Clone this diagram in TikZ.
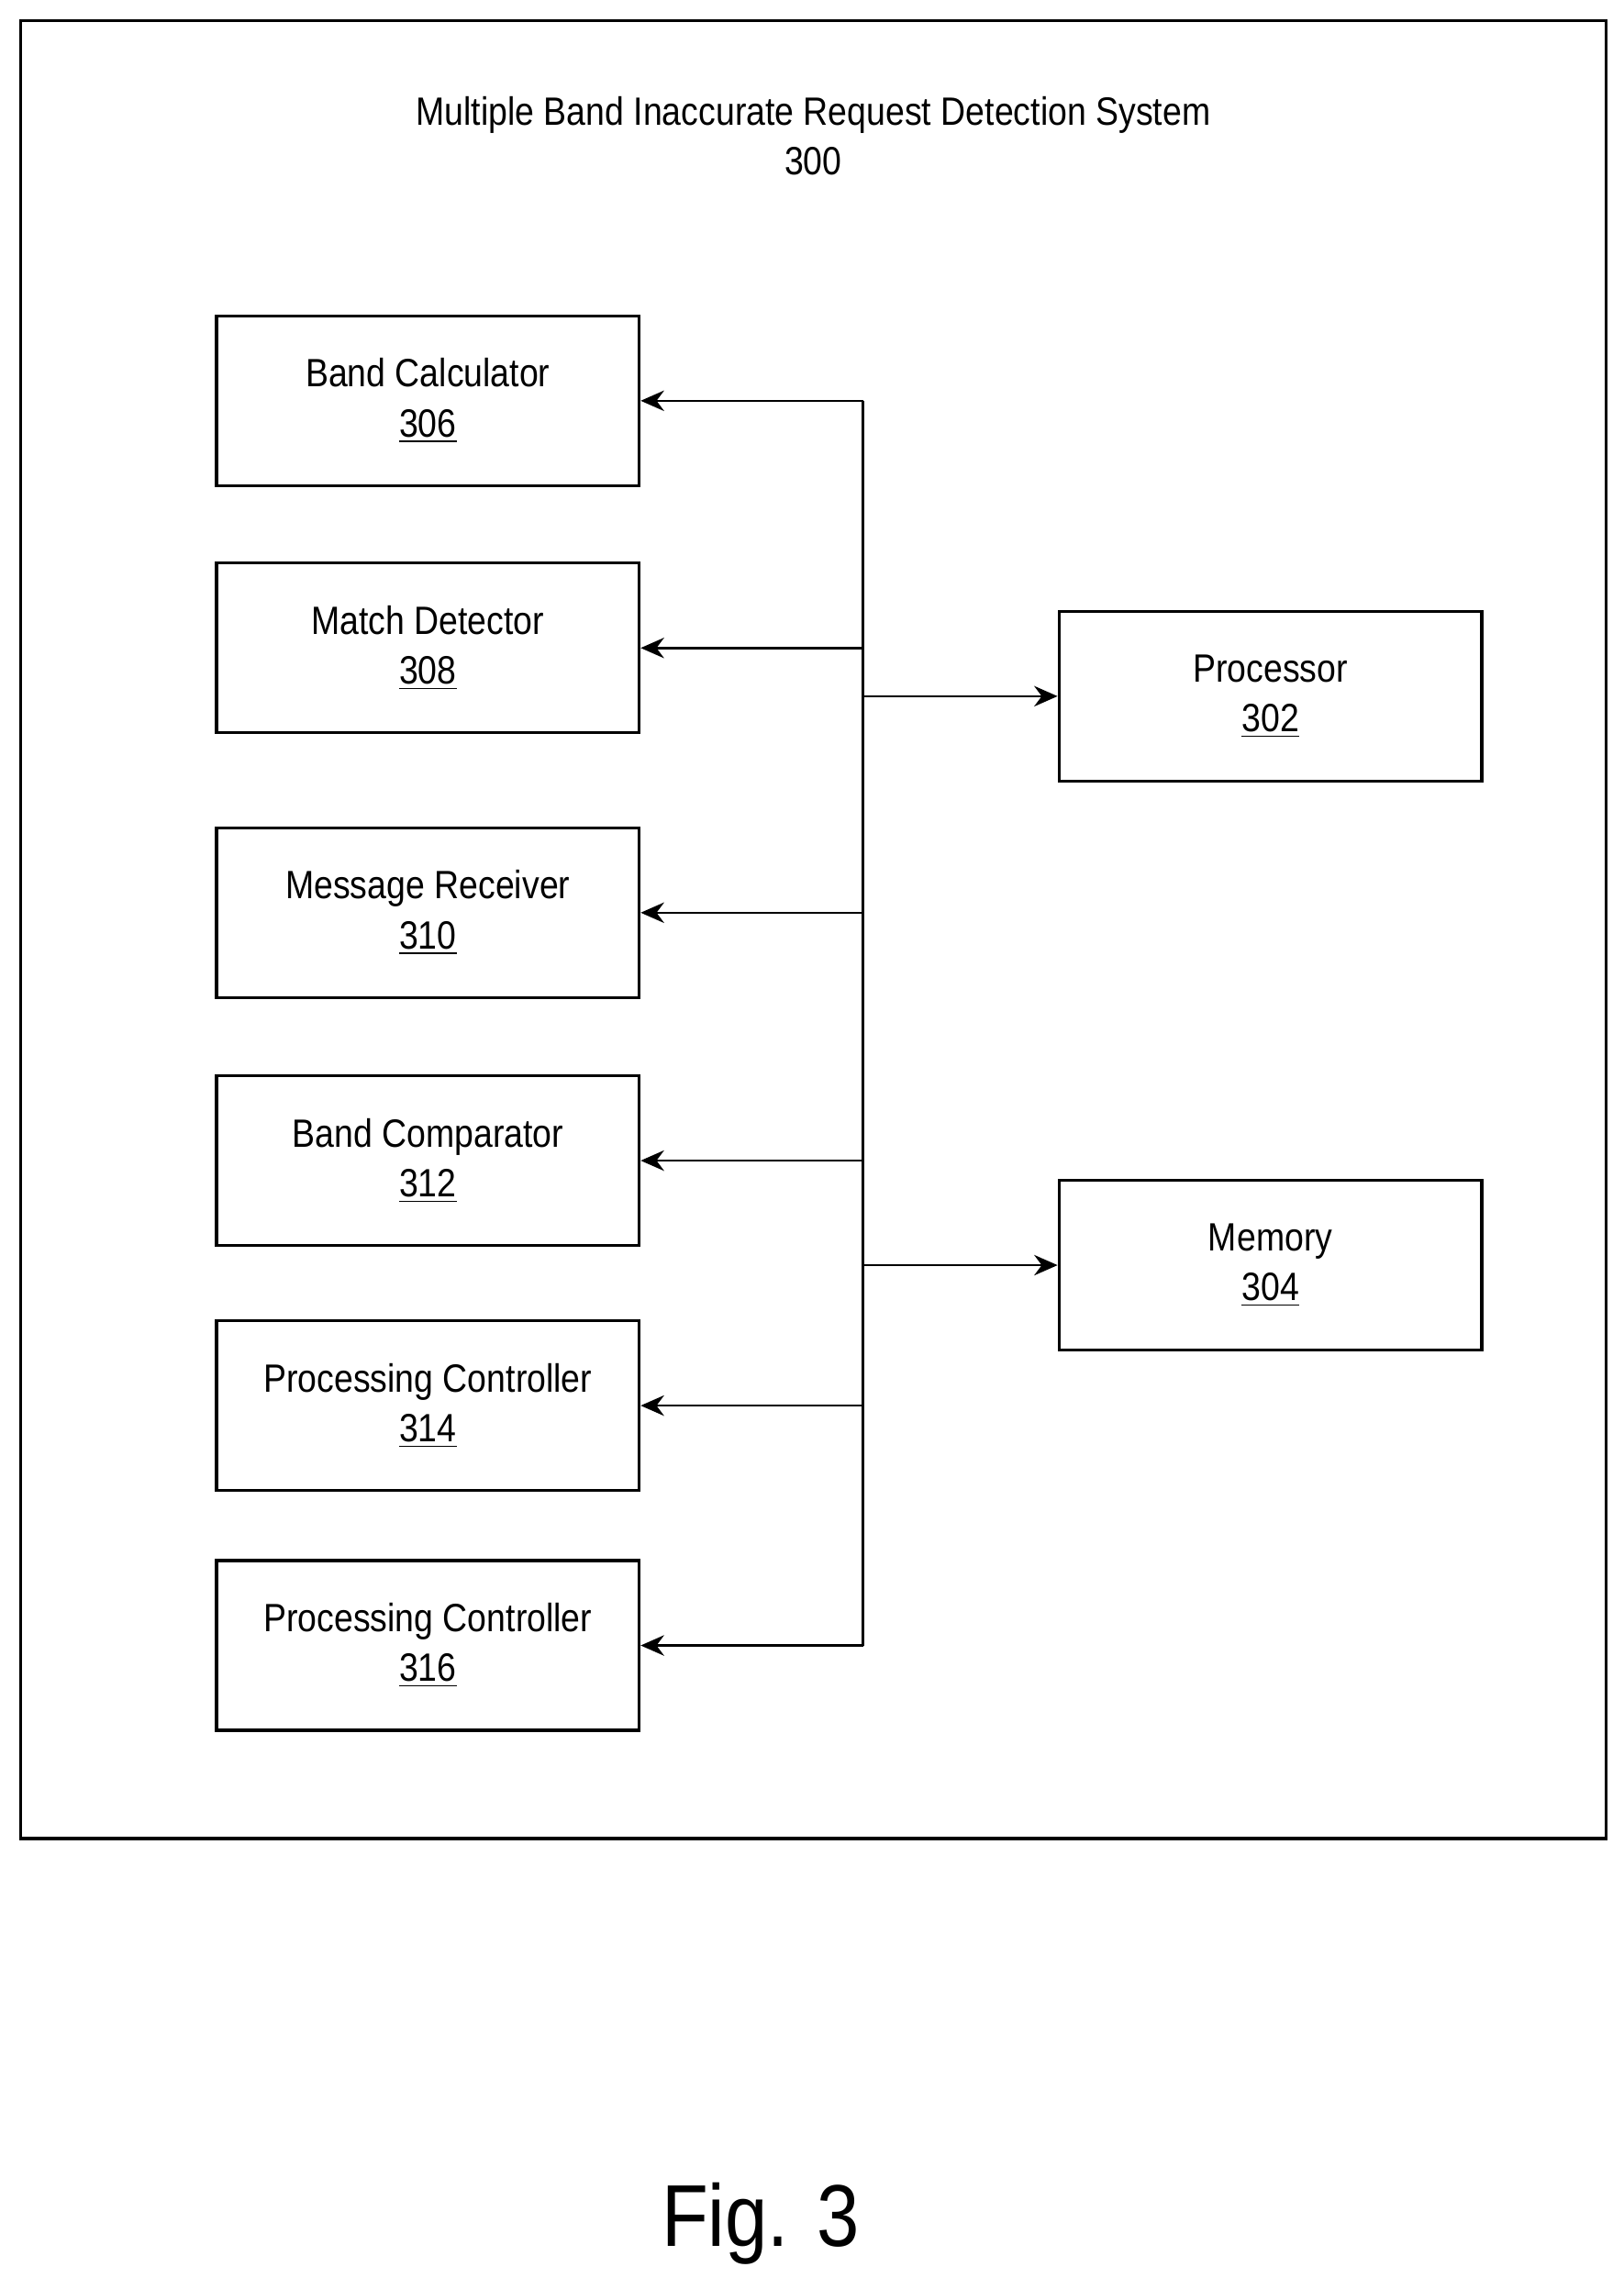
\documentclass[tikz,border=0pt]{standalone}
\usepackage{fontspec}
\setmainfont{Liberation Sans}[FakeStretch=0.87]
\usetikzlibrary{arrows.meta}
\begin{document}
\begin{tikzpicture}[x=0.5pt,y=-0.5pt,
  box/.style={draw,line width=1pt,minimum width=144.5pt,minimum height=58pt,inner sep=0pt,align=center,font=\fontsize{13.5}{17}\selectfont},
  arr/.style={line width=0.8pt,-{Stealth[length=8pt,width=7pt]}},
  ln/.style={line width=0.8pt}]
\useasboundingbox (0,0) rectangle (1110,1565);
\draw[line width=1pt] (14,14) rectangle (1098,1257);
\node[align=center,font=\fontsize{13.5}{17}\selectfont] (title) at (556,93) {Multiple Band Inaccurate Request Detection System\\300};
\node[box] (b306) at (292.5,274) {Band Calculator\\\underline{306}};
\node[box] (b308) at (292.5,443) {Match Detector\\\underline{308}};
\node[box] (b310) at (292.5,624) {Message Receiver\\\underline{310}};
\node[box] (b312) at (292.5,793.5) {Band Comparator\\\underline{312}};
\node[box] (b314) at (292.5,961) {Processing Controller\\\underline{314}};
\node[box] (b316) at (292.5,1125) {Processing Controller\\\underline{316}};
\node[box] (b302) at (868.5,476) {Processor\\\underline{302}};
\node[box] (b304) at (868.5,865) {Memory\\\underline{304}};
\coordinate (top) at (590,274);
\coordinate (bot) at (590,1125);
\draw[ln] (top) -- (bot);
\foreach \n in {306,308,310,312,314,316}
  \draw[arr] (590,0 |- b\n.east) -- (b\n.east);
\draw[arr] (590,0 |- b302.west) -- (b302.west);
\draw[arr] (590,0 |- b304.west) -- (b304.west);
\node[font=\fontsize{30}{36}\selectfont] (fig) at (520,1520) {Fig. 3};
\end{tikzpicture}
\end{document}
